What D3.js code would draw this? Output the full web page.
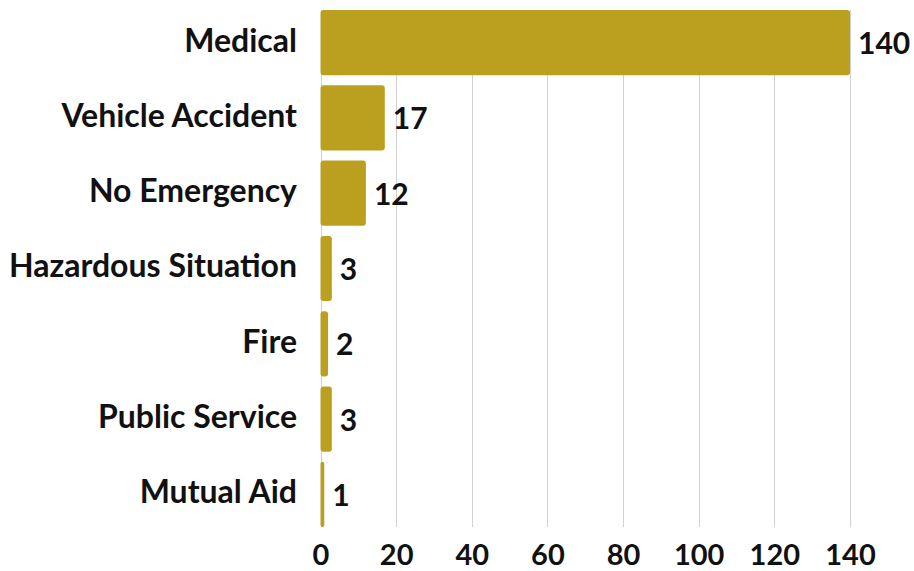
<!DOCTYPE html>
<html>
<head>
<meta charset="utf-8">
<script src="https://d3js.org/d3.v7.min.js"></script>
<style>
  body { margin: 0; background: #fff; }
  text { font-family: Lato, sans-serif; font-weight: 700; fill: #111; }
</style>
</head>
<body>
<div id="chart"></div>
<script>
var categories = ["Medical", "Vehicle Accident", "No Emergency", "Hazardous Situation", "Fire", "Public Service", "Mutual Aid"];
var counts = [140, 17, 12, 3, 2, 3, 1];
var tickValues = [0, 20, 40, 60, 80, 100, 120, 140];

var width = 914, height = 571;

var svg = d3.select("#chart").append("svg")
  .attr("width", width)
  .attr("height", height);

var x = d3.scaleLinear().domain([0, 140]).range([320.5, 850]);
var y = d3.scaleBand().domain(categories).range([10, 527]).paddingInner(0.135).paddingOuter(0);

// gridlines
svg.selectAll("line.grid")
  .data(tickValues)
  .enter()
  .append("line")
  .attr("class", "grid")
  .attr("x1", function(d) { return Math.round(x(d)) + 0.5; })
  .attr("x2", function(d) { return Math.round(x(d)) + 0.5; })
  .attr("y1", 10)
  .attr("y2", 527)
  .attr("stroke", "#d0d0d0")
  .attr("stroke-width", 1);

// bars
svg.selectAll("rect.bar")
  .data(categories)
  .enter()
  .append("rect")
  .attr("class", "bar")
  .attr("x", x(0))
  .attr("y", function(d) { return y(d); })
  .attr("width", function(d, i) { return x(counts[i]) - x(0); })
  .attr("height", y.bandwidth())
  .attr("rx", function(d, i) { return Math.min(3, (x(counts[i]) - x(0)) / 2); })
  .attr("fill", "#bba020");

// value labels
svg.selectAll("text.value")
  .data(categories)
  .enter()
  .append("text")
  .attr("class", "value")
  .attr("x", function(d, i) { return x(counts[i]) + 8; })
  .attr("y", function(d) { return y(d) + y.bandwidth() / 2; })
  .attr("dy", "0.38em")
  .style("font-size", "30px")
  .text(function(d, i) { return counts[i]; });

// category labels
svg.selectAll("text.cat")
  .data(categories)
  .enter()
  .append("text")
  .attr("class", "cat")
  .attr("x", 297)
  .attr("y", function(d) { return y(d) + y.bandwidth() / 2; })
  .attr("dy", "0.28em")
  .attr("text-anchor", "end")
  .style("font-size", "32px")
  .text(function(d) { return d; });

// x axis tick labels
var xAxis = d3.axisBottom(x).tickValues(tickValues).tickSize(0).tickPadding(0);
var gx = svg.append("g")
  .attr("transform", "translate(0,565)")
  .call(xAxis);
gx.select(".domain").remove();
gx.selectAll("text")
  .attr("dy", 0)
  .attr("y", 0)
  .style("font-family", "Lato, sans-serif")
  .style("font-weight", "700")
  .style("font-size", "29px")
  .attr("fill", "#111");
</script>
</body>
</html>
